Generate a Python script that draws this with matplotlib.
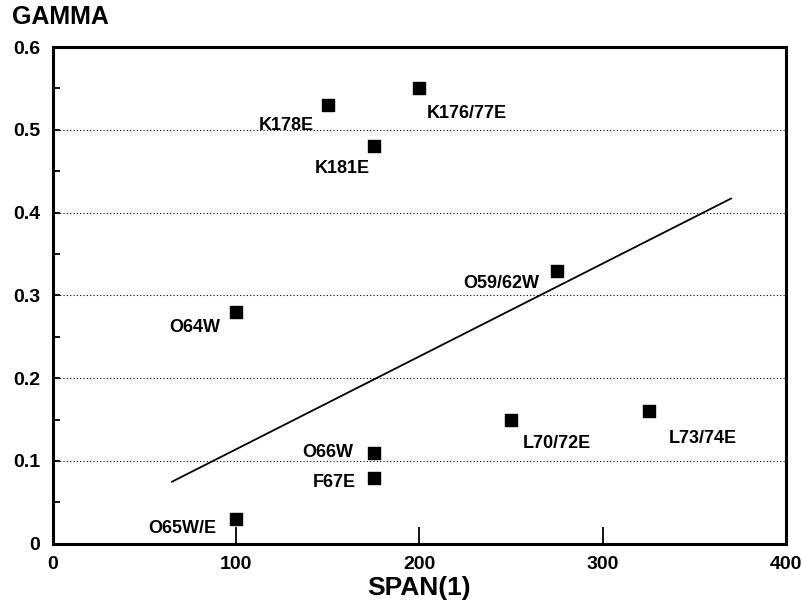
import matplotlib.pyplot as plt
from matplotlib.ticker import MultipleLocator

plt.rcParams['font.family'] = ['Liberation Sans', 'DejaVu Sans']
plt.rcParams['font.weight'] = 'bold'

names = ['K178E', 'K176/77E', 'K181E', 'O59/62W', 'O64W',
         'L70/72E', 'L73/74E', 'O66W', 'F67E', 'O65W/E']
span = [150, 200, 175, 275, 100, 250, 325, 175, 175, 100]
gamma = [0.53, 0.55, 0.48, 0.33, 0.28, 0.15, 0.16, 0.11, 0.08, 0.03]

# regression line end points
fit_x = [65, 370]
fit_y = [0.075, 0.417]

# label offsets in pixels (dx, dy) and alignment
label_offsets = [(-14, -20, 'right'), (7, -25, 'left'), (-4, -22, 'right'),
                 (-18, -13, 'right'), (-16, -16, 'right'), (12, -24, 'left'),
                 (20, -27, 'left'), (-20, 0, 'right'), (-18, -5, 'right'),
                 (-20, -10, 'right')]


def plot_data():
    fig = plt.figure(figsize=(8.02, 6.11), dpi=100)
    ax = fig.add_axes([0.066, 0.11, 0.914, 0.813])

    ax.plot(fit_x, fit_y, color='black', linewidth=1.3)
    ax.scatter(span, gamma, marker='s', s=85, color='black', zorder=3)

    for name, x, y, (dx, dy, ha) in zip(names, span, gamma, label_offsets):
        ax.annotate(name, (x, y), xytext=(dx, dy), textcoords='offset pixels',
                    ha=ha, va='center', fontsize=13, fontweight='bold')

    ax.set_xlim(0, 400)
    ax.set_ylim(0, 0.6)
    ax.xaxis.set_major_locator(MultipleLocator(100))
    ax.yaxis.set_minor_locator(MultipleLocator(0.05))
    ax.set_yticks([0, 0.1, 0.2, 0.3, 0.4, 0.5, 0.6])
    ax.set_yticklabels(['0', '0.1', '0.2', '0.3', '0.4', '0.5', '0.6'])
    ax.tick_params(axis='x', direction='in', length=12, width=1.3,
                   labelsize=14, pad=9)
    ax.tick_params(axis='y', which='both', direction='in', length=5, width=1.3,
                   labelsize=14, pad=9)
    for lab in ax.get_xticklabels() + ax.get_yticklabels():
        lab.set_fontweight('bold')

    ax.grid(axis='y', linestyle=(0, (1, 2)), color='black', linewidth=0.8)
    for side in ax.spines.values():
        side.set_linewidth(2.2)

    ax.set_xlabel('SPAN(1)', fontsize=19, fontweight='bold', labelpad=2)
    fig.text(0.015, 0.972, 'GAMMA', fontsize=18, fontweight='bold',
             ha='left', va='center')

    fig.savefig('out.png', dpi=100)


def main():
    plot_data()


if __name__ == "__main__":
    main()
